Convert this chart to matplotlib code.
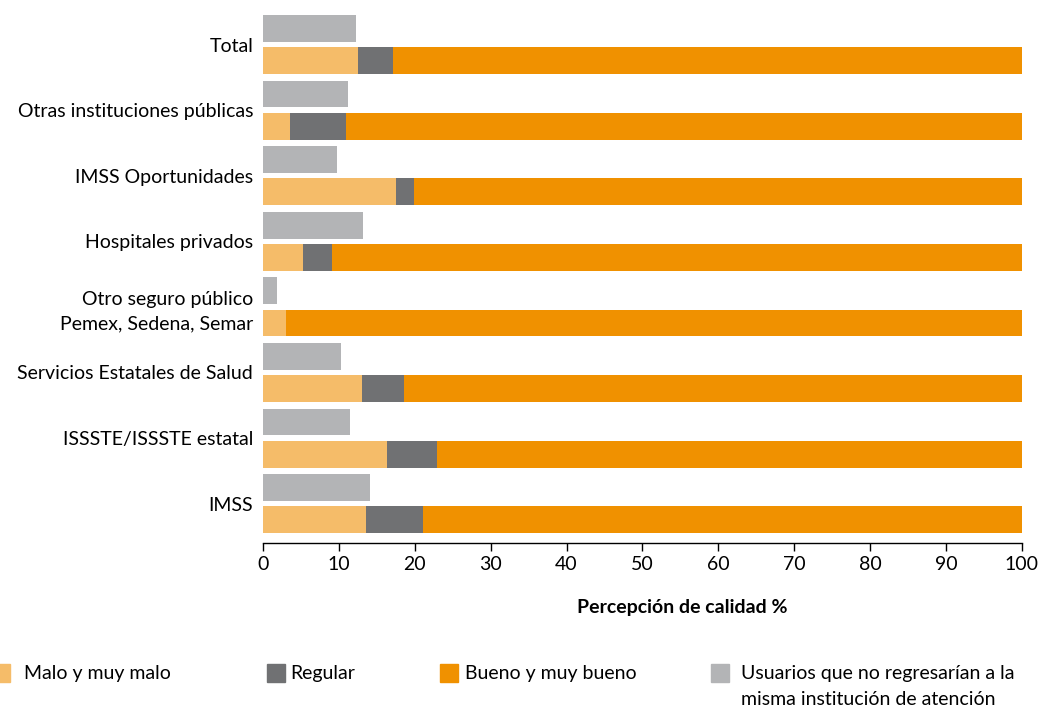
import numpy as np
import matplotlib
matplotlib.use('Agg')
import matplotlib.pyplot as plt
from matplotlib.patches import Rectangle

plt.rcParams['font.family'] = ['Lato', 'DejaVu Sans']

categorias = ['Total', 'Otras instituciones públicas', 'IMSS Oportunidades',
              'Hospitales privados', 'Otro seguro público\nPemex, Sedena, Semar',
              'Servicios Estatales de Salud', 'ISSSTE/ISSSTE estatal', 'IMSS']
malo = [12.5, 3.6, 17.5, 5.3, 3.0, 13.0, 16.3, 13.6]
regular = [4.6, 7.3, 2.4, 3.8, 0.0, 5.6, 6.6, 7.5]
bueno = [82.9, 89.1, 80.1, 90.9, 97.0, 81.4, 77.1, 78.9]
no_regresarian = [12.3, 11.2, 9.8, 13.2, 1.8, 10.3, 11.5, 14.1]

leyenda = ['Malo y muy malo', 'Regular', 'Bueno y muy bueno',
           'Usuarios que no regresarían a la\nmisma institución de atención']
colores = ['#F5BC69', '#707173', '#F09100', '#B3B4B6']

fs = 14

fig = plt.figure(figsize=(10.41, 7.10), dpi=100)
ax = fig.add_axes([0.2526, 0.2352, 0.7291, 0.7507])

y = np.arange(len(categorias))
h = 0.41
off = 0.245
malo = np.array(malo)
regular = np.array(regular)
bueno = np.array(bueno)

ax.barh(y - off, no_regresarian, height=h, color=colores[3])
ax.barh(y + off, malo, height=h, color=colores[0])
ax.barh(y + off, regular, left=malo, height=h, color=colores[1])
ax.barh(y + off, bueno, left=malo + regular, height=h, color=colores[2])

ax.set_xlim(0, 100)
ax.set_ylim(7.6, -0.526)
ax.set_yticks(y)
ax.set_yticklabels(categorias, fontsize=fs, linespacing=1.5)
ax.tick_params(axis='y', length=0, pad=7)
ax.set_xticks(np.arange(0, 101, 10))
ax.tick_params(axis='x', labelsize=fs, length=6, width=1, direction='out', pad=3)
for s in ['top', 'right', 'left']:
    ax.spines[s].set_visible(False)
ax.spines['bottom'].set_linewidth(1)

ax.set_xlabel('Percepción de calidad %', fontsize=fs, fontweight='bold')
ax.xaxis.set_label_coords(0.553, -0.105)

# leyenda
xs = [-8, 267, 440, 711]
xt = [24, 290, 465, 741]
for i in range(4):
    fig.patches.append(Rectangle((xs[i] / 1041, 1 - 682 / 710), 18 / 1041, 18 / 710,
                                 transform=fig.transFigure, color=colores[i]))
    fig.text(xt[i] / 1041, 1 - 665 / 710, leyenda[i], fontsize=fs,
             va='top', ha='left', linespacing=1.65)

fig.savefig('out.png', dpi=100)
